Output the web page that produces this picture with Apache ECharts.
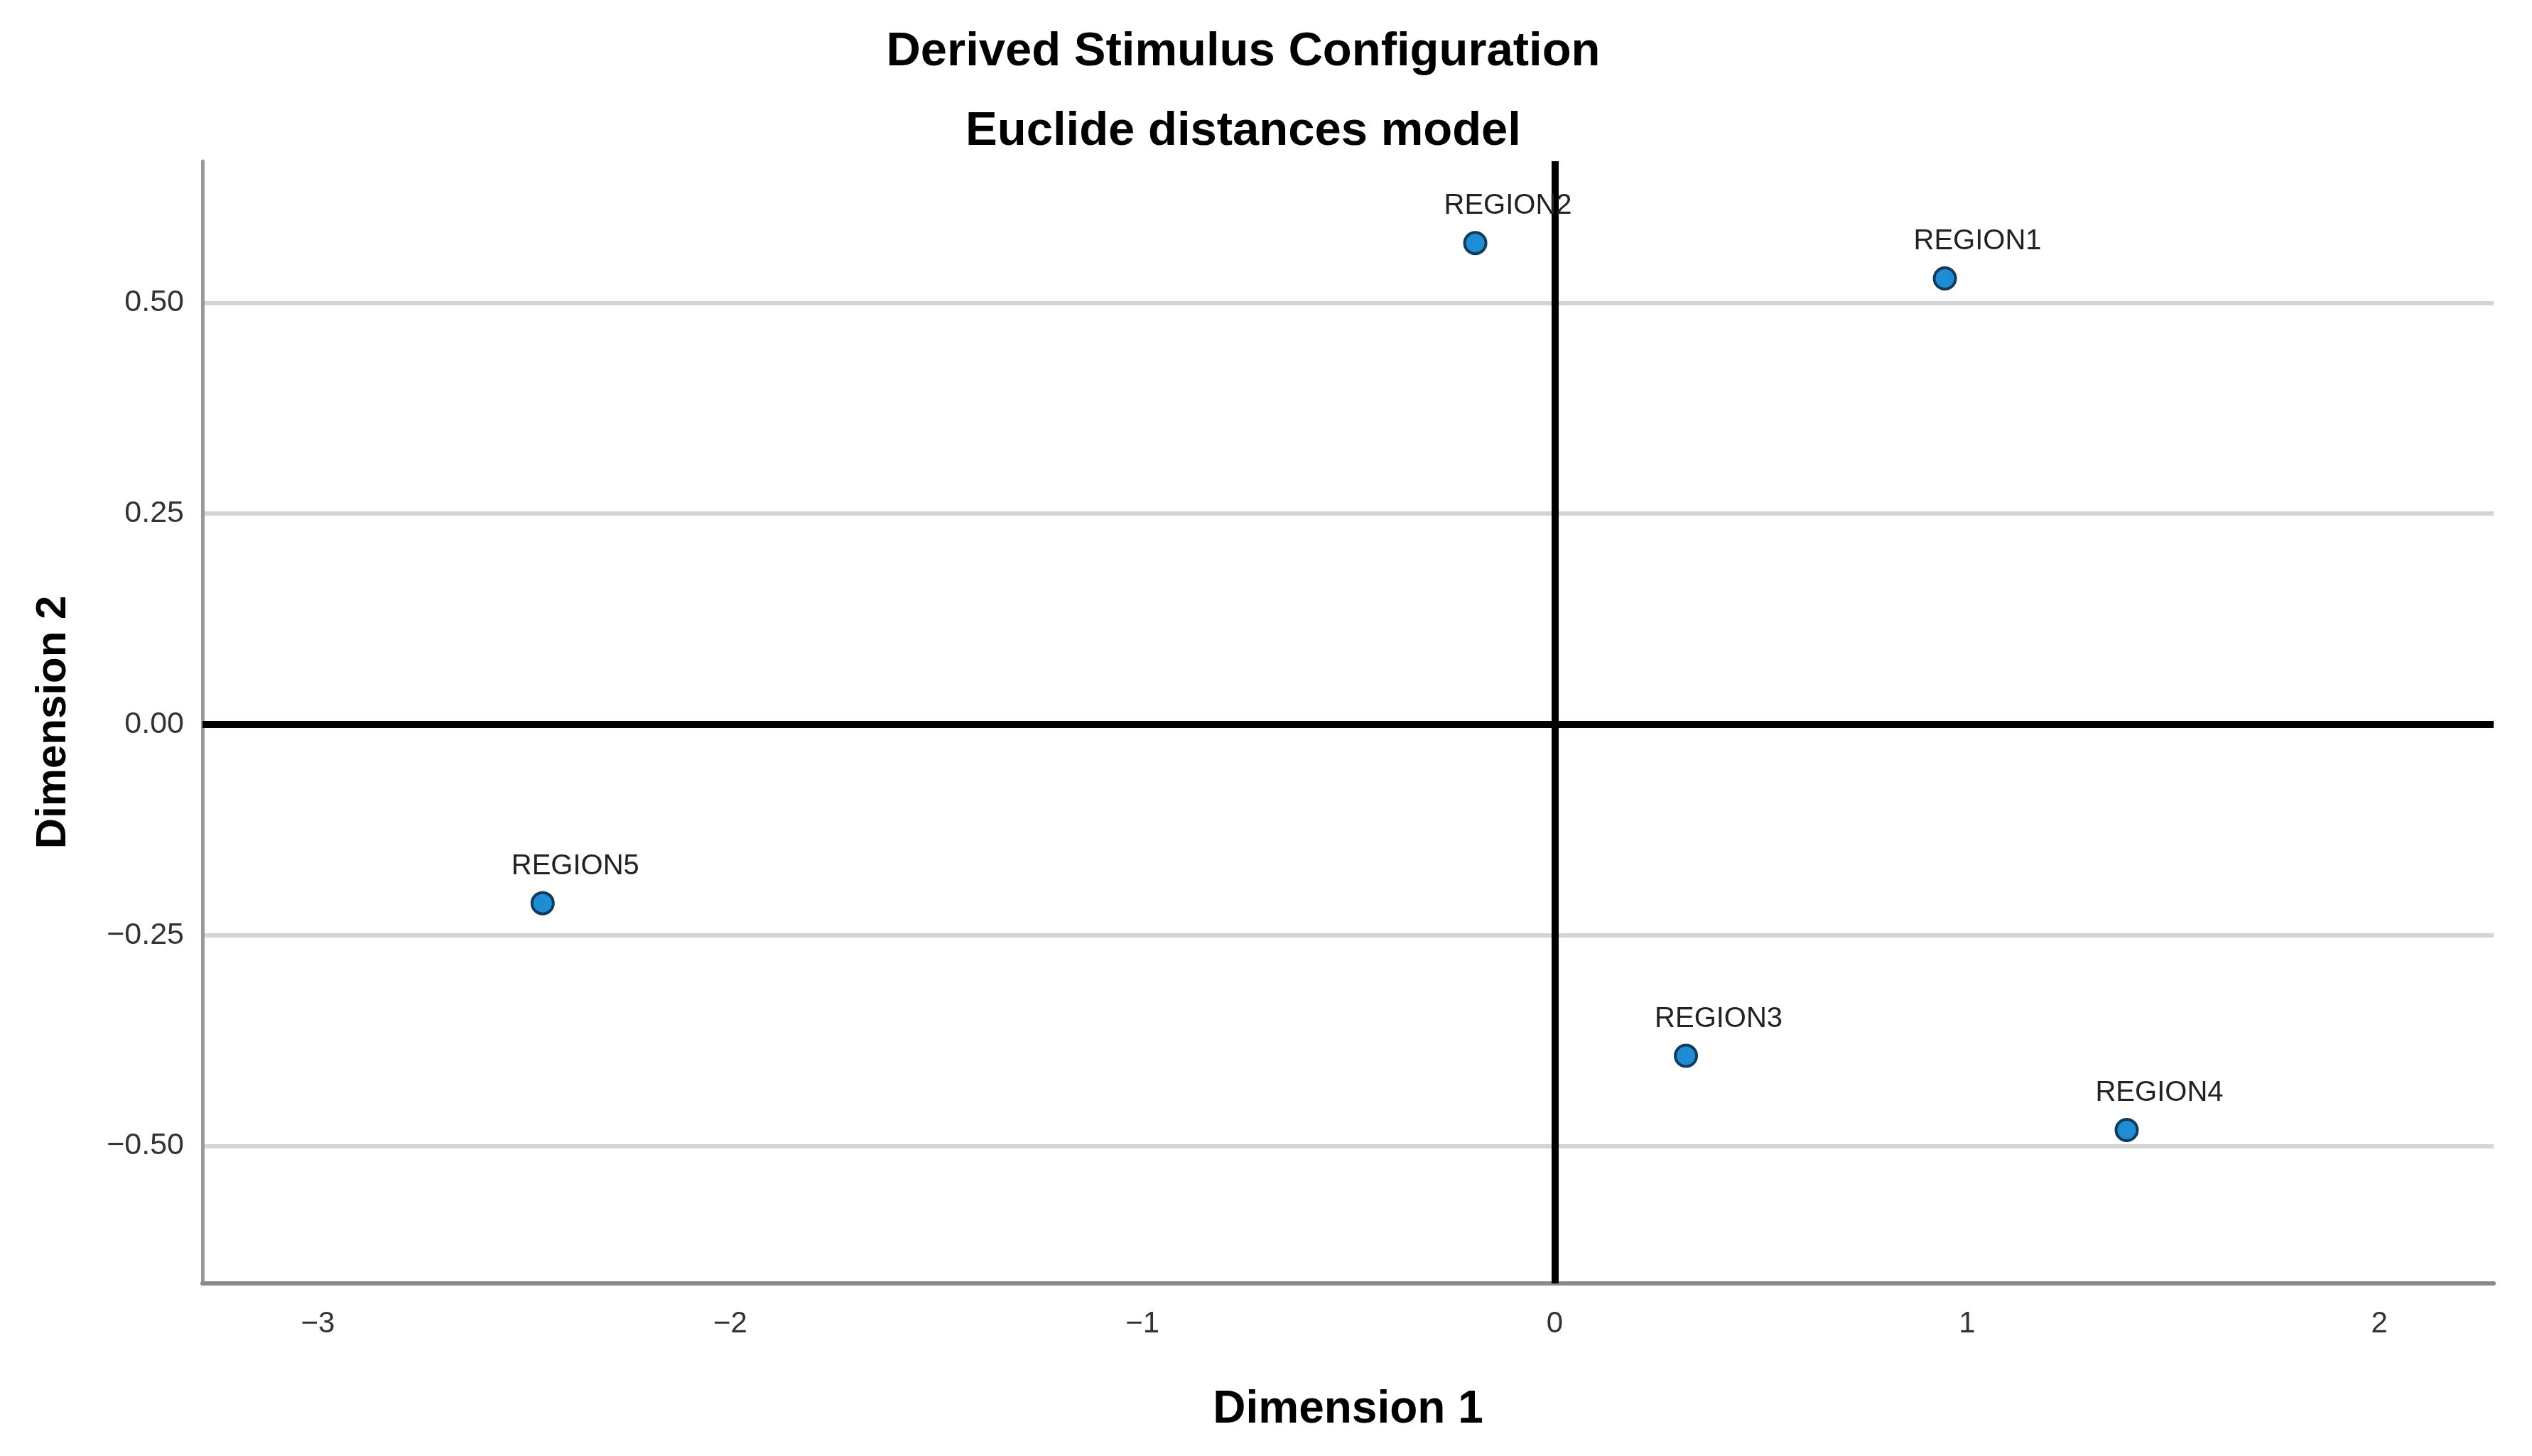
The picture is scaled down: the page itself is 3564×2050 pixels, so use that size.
<!DOCTYPE html>
<html>
<head>
<meta charset="utf-8">
<script src="https://cdn.jsdelivr.net/npm/echarts@6/dist/echarts.min.js"></script>
<style>
html,body{margin:0;padding:0;background:#fff;}
#chart{width:3564px;height:2050px;}
</style>
</head>
<body>
<div id="chart"></div>
<script>
const regionNames = ['REGION1', 'REGION2', 'REGION3', 'REGION4', 'REGION5'];
const dim1Values = [0.946, -0.193, 0.318, 1.387, -2.455];
const dim2Values = [0.529, 0.571, -0.393, -0.481, -0.212];
const xTicks = [-3, -2, -1, 0, 1, 2];
const yTicks = [-0.5, -0.25, 0, 0.25, 0.5];

const points = regionNames.map((n, i) => ({ name: n, value: [dim1Values[i], dim2Values[i]] }));
const minus = s => String(s).replace('-', '\u2212');
const FONT = '"Liberation Sans", Arial, sans-serif';

const chart = echarts.init(document.getElementById('chart'));
chart.setOption({
  animation: false,
  backgroundColor: '#fff',
  title: [
    { text: 'Derived Stimulus Configuration', left: 1745, top: 35, textAlign: 'center',
      textStyle: { fontFamily: FONT, fontSize: 67, fontWeight: 'bold', color: '#000' } },
    { text: 'Euclide distances model', left: 1745, top: 147, textAlign: 'center',
      textStyle: { fontFamily: FONT, fontSize: 67, fontWeight: 'bold', color: '#000' } }
  ],
  grid: { left: 285, right: 54, top: 227, bottom: 243, containLabel: false },
  xAxis: {
    type: 'value', min: -3.28, max: 2.277,
    name: 'Dimension 1', nameLocation: 'middle', nameGap: 146,
    nameTextStyle: { fontFamily: FONT, fontSize: 64, fontWeight: 'bold', color: '#000' },
    axisLine: { show: true, onZero: false, lineStyle: { color: '#8a8a8a', width: 6 } },
    axisTick: { show: false, customValues: xTicks },
    axisLabel: { customValues: xTicks, fontFamily: FONT, fontSize: 42, color: '#333', margin: 36,
      formatter: v => minus(v) },
    splitLine: { show: false }
  },
  yAxis: {
    type: 'value', min: -0.663, max: 0.668,
    name: 'Dimension 2', nameLocation: 'middle', nameGap: 180,
    nameTextStyle: { fontFamily: FONT, fontSize: 60, fontWeight: 'bold', color: '#000' },
    axisLine: { show: true, onZero: false, lineStyle: { color: '#999', width: 5 } },
    axisTick: { show: false, customValues: yTicks },
    axisLabel: { customValues: yTicks, fontFamily: FONT, fontSize: 43, color: '#333', margin: 26,
      formatter: v => minus(Number(v).toFixed(2)) },
    splitLine: { show: true, lineStyle: { color: '#d4d4d4', width: 6 } }
  },
  series: [{
    type: 'scatter',
    data: points,
    symbol: 'circle',
    symbolSize: 30,
    itemStyle: { color: '#1f8dd6', borderColor: '#123a5a', borderWidth: 4, opacity: 1 },
    label: { show: true, position: 'inside', offset: [46, -52], formatter: p => p.name,
      fontFamily: FONT, fontSize: 40, color: '#222' },
    emphasis: { disabled: true },
    z: 5,
    markLine: {
      silent: true, symbol: 'none', animation: false,
      label: { show: false },
      lineStyle: { color: '#000', width: 10, type: 'solid' },
      data: [{ xAxis: 0 }, { yAxis: 0 }],
      z: 3
    }
  }]
});
</script>
</body>
</html>
